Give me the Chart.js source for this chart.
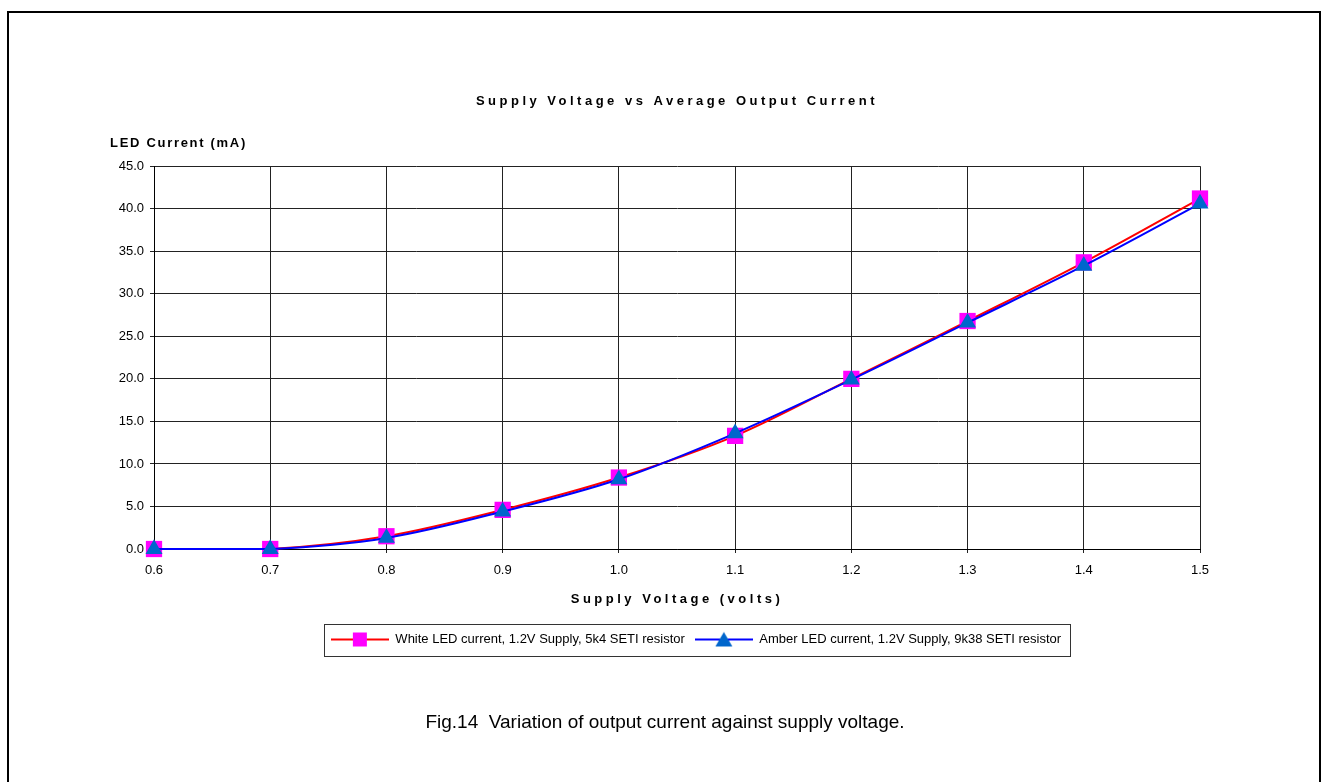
<!DOCTYPE html>
<html><head><meta charset="utf-8">
<script src="https://cdn.jsdelivr.net/npm/chart.js@4.4.1/dist/chart.umd.min.js"></script>
<style>
html,body{margin:0;padding:0;background:#fff;width:1329px;height:782px;overflow:hidden;}
#frame{position:absolute;left:7px;top:11px;width:1310px;height:800px;border:2px solid #000;}
#c{position:absolute;left:0;top:0;}
#caption{position:absolute;left:0;top:711px;width:1330px;text-align:center;font:19px 'Liberation Sans',Arial,sans-serif;line-height:22px;color:#000;white-space:pre;}
</style></head><body>
<div id="frame"></div>
<canvas id="c" width="1329" height="782"></canvas>
<div id="caption">Fig.14  Variation of output current against supply voltage.</div>
<script>
// ---- data ----
const chartTitle = 'Supply Voltage vs Average Output Current';
const yAxisTitle = 'LED Current (mA)';
const xAxisTitle = 'Supply Voltage (volts)';
const voltages = [0.6, 0.7, 0.8, 0.9, 1.0, 1.1, 1.2, 1.3, 1.4, 1.5];
const whiteCurrent = [0.0, 0.0, 1.5, 4.6, 8.4, 13.3, 20.0, 26.8, 33.7, 41.2];
const amberCurrent = [0.0, 0.0, 1.3, 4.4, 8.2, 13.6, 19.9, 26.6, 33.3, 40.6];
const seriesLabels = ['White LED current, 1.2V Supply, 5k4 SETI resistor',
                      'Amber LED current, 1.2V Supply, 9k38 SETI resistor'];

const FONT = "'Liberation Sans', Arial, sans-serif";
const spacing = {};
spacing[chartTitle] = '3.5px';
spacing[yAxisTitle] = '1.7px';
const xTitleSpacing = '3.5px';
const legendCenterX = 696;

function legendIcon(kind) {
  const cv = document.createElement('canvas');
  cv.width = 58; cv.height = 18;
  const g = cv.getContext('2d');
  g.strokeStyle = kind === 'square' ? '#ff0000' : '#0000ff';
  g.lineWidth = 2;
  g.beginPath(); g.moveTo(0, 9); g.lineTo(58, 9); g.stroke();
  if (kind === 'square') {
    g.fillStyle = '#ff00ff';
    g.fillRect(22, 2, 14, 14);
  } else {
    g.fillStyle = '#0066cc';
    g.beginPath(); g.moveTo(29, 1.5); g.lineTo(37.5, 16); g.lineTo(20.5, 16); g.closePath(); g.fill();
  }
  return cv;
}
const icons = [legendIcon('square'), legendIcon('triangle')];

const spacingPlugin = {
  id: 'letterSpacing',
  beforeDraw(chart) {
    chart.boxes.forEach(b => {
      if (b._spPatched || typeof b._drawArgs !== 'function') return;
      const orig = b.draw;
      b.draw = function () {
        const ctx = this.ctx; ctx.save();
        ctx.letterSpacing = spacing[this.options.text] || '0px';
        orig.apply(this, arguments); ctx.restore();
      };
      b._spPatched = true;
    });
    const xs = chart.scales.x;
    if (xs && !xs._spPatched) {
      const o = xs.drawTitle;
      xs.drawTitle = function () {
        const ctx = this.ctx; ctx.save(); ctx.letterSpacing = xTitleSpacing;
        o.apply(this, arguments); ctx.restore();
      };
      xs._spPatched = true;
    }
  }
};

const legendPlugin = {
  id: 'legendFrame',
  afterLayout(chart) {
    const lg = chart.legend; if (!lg) return;
    const d = legendCenterX - (lg.left + lg.right) / 2;
    lg.left += d; lg.right += d;
  },
  afterDraw(chart) {
    const hb = chart.legend && chart.legend.legendHitBoxes;
    if (!hb || !hb.length) return;
    const f = hb[0], l = hb[hb.length - 1];
    const x0 = Math.round(f.left - 7) + 0.5, x1 = Math.round(l.left + l.width + 9) + 0.5;
    const y0 = Math.round(f.top - 9.5) + 0.5, y1 = Math.round(f.top + f.height + 9.5) + 0.5;
    const ctx = chart.ctx; ctx.save();
    ctx.strokeStyle = '#333'; ctx.lineWidth = 1;
    ctx.strokeRect(x0, y0, x1 - x0, y1 - y0); ctx.restore();
  }
};

new Chart(document.getElementById('c'), {
  type: 'line',
  data: {
    datasets: [
      {
        label: seriesLabels[0],
        data: voltages.map((v, i) => ({x: v, y: whiteCurrent[i]})),
        borderColor: '#ff0000', borderWidth: 2,
        pointStyle: 'rect', pointRadius: 11.5, pointBorderWidth: 0,
        pointBackgroundColor: '#ff00ff', pointBorderColor: '#ff00ff',
        tension: 0.33, clip: false, order: 1
      },
      {
        label: seriesLabels[1],
        data: voltages.map((v, i) => ({x: v, y: amberCurrent[i]})),
        borderColor: '#0000ff', borderWidth: 2,
        pointStyle: 'triangle', pointRadius: 9.8, pointBorderWidth: 0,
        pointBackgroundColor: '#0066cc', pointBorderColor: '#0066cc',
        tension: 0.33, clip: false, order: 0
      }
    ]
  },
  options: {
    responsive: false, animation: false, devicePixelRatio: 1,
    layout: {padding: {left: 110, right: 129, top: 94, bottom: 126}},
    events: [],
    scales: {
      x: {
        type: 'linear', min: 0.6, max: 1.5,
        afterFit(s) { s.height = 74; },
        ticks: {stepSize: 0.1, autoSkip: false, maxRotation: 0, padding: 10, color: '#000',
                font: {family: FONT, size: 13}, callback: v => Number(v).toFixed(1)},
        grid: {color: '#222', lineWidth: 1, tickLength: 4, tickColor: '#222'},
        border: {color: '#000', width: 1},
        title: {display: true, text: xAxisTitle, color: '#000',
                font: {family: FONT, size: 13, weight: 'bold'}, padding: {top: 0, bottom: 16}}
      },
      y: {
        type: 'linear', min: 0, max: 45,
        afterFit(s) { s.width = 44; },
        ticks: {stepSize: 5, padding: 6, color: '#000',
                font: {family: FONT, size: 13}, callback: v => Number(v).toFixed(1)},
        grid: {color: '#222', lineWidth: 1, tickLength: 4, tickColor: '#222'},
        border: {color: '#000', width: 1}
      }
    },
    plugins: {
      tooltip: {enabled: false},
      title: {display: true, text: chartTitle, fullSize: false, color: '#000',
              font: {family: FONT, size: 13, weight: 'bold'}, padding: {top: 0, bottom: 26}},
      subtitle: {display: true, text: yAxisTitle, align: 'start', fullSize: true, color: '#000',
                 font: {family: FONT, size: 13, weight: 'bold'}, padding: {top: 0, bottom: 15}},
      legend: {
        position: 'bottom',
        labels: {
          usePointStyle: true, pointStyleWidth: 58, padding: 10, color: '#000',
          font: {family: FONT, size: 13},
          generateLabels: chart => chart.data.datasets.map((ds, i) => ({
            text: ds.label, datasetIndex: i, hidden: false, pointStyle: icons[i],
            fillStyle: 'transparent', strokeStyle: 'transparent', lineWidth: 0, fontColor: '#000'
          }))
        }
      }
    }
  },
  plugins: [spacingPlugin, legendPlugin]
});
</script>
</body></html>
